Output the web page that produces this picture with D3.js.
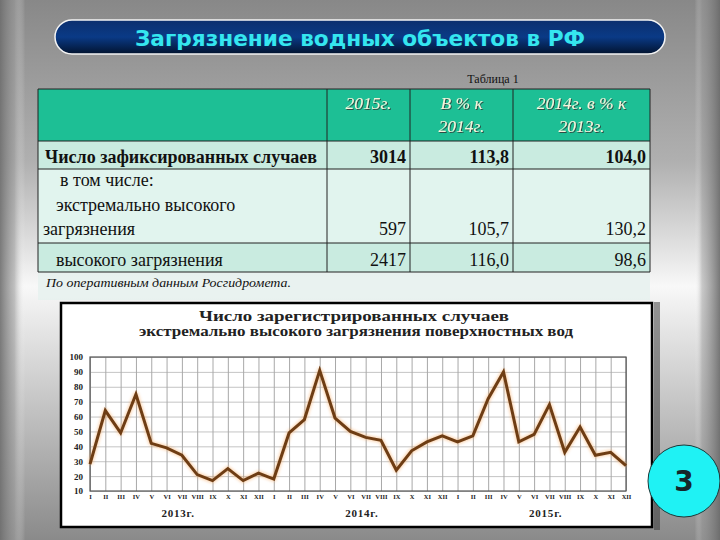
<!DOCTYPE html>
<html>
<head>
<meta charset="utf-8">
<script src="https://cdn.jsdelivr.net/npm/d3@7"></script>
<style>
  body { margin: 0; padding: 0; overflow: hidden; }
  svg { display: block; }
</style>
</head>
<body>
<div id="place"></div>
<script>
(function() {

	// data
	const months = ["I","II","III","IV","V","VI","VII","VIII","IX","X","XI","XII"];
	const years = ["2013г.", "2014г.", "2015г."];
	const cases2013 = [28, 64, 49, 75, 42, 39, 34, 21, 17, 25, 17, 22];
	const cases2014 = [18, 49, 58, 91, 59, 50, 46, 44, 24, 37, 43, 47];
	const cases2015 = [43, 47, 72, 90, 43, 48, 68, 36, 53, 34, 36, 27];
	const yTicks = [10, 20, 30, 40, 50, 60, 70, 80, 90, 100];

	const tableHead = ["", "2015г.", "В % к|2014г.", "2014г. в % к|2013г."];
	const rowLabels = [["Число зафиксированных случаев"], ["в том числе:", "экстремально высокого", "загрязнения"], ["высокого загрязнения"]];
	const rowValues = [["3014", "113,8", "104,0"], ["597", "105,7", "130,2"], ["2417", "116,0", "98,6"]];

	const width = 720, height = 540;

	let svg = d3.select("#place").append("svg")
		.attr('width', width)
		.attr('height', height)

	const defs = svg.append("defs");

	// slide background
	const bg = defs.append("linearGradient").attr("id", "bg")
		.attr("x1", "0%").attr("x2", "0%").attr("y1", "0%").attr("y2", "100%");
	[[0, "#888888"], [0.3, "#b0b0b0"], [0.48, "#e8e8e8"], [0.53, "#f8f8f8"], [0.7, "#d0d0d0"], [1, "#8a8a8a"]]
		.forEach(s => bg.append("stop").attr("offset", s[0]).attr("stop-color", s[1]));

	const edge = defs.append("linearGradient").attr("id", "edge")
		.attr("x1", "0%").attr("x2", "100%").attr("y1", "0%").attr("y2", "0%");
	[[0, "#6e6e6e", 0.9], [0.02, "#9a9a9a", 0.6], [0.035, "#ffffff", 0.0], [0.965, "#ffffff", 0.0], [0.975, "#9a9a9a", 0.5], [1, "#6a6a6a", 0.9]]
		.forEach(s => edge.append("stop").attr("offset", s[0]).attr("stop-color", s[1]).attr("stop-opacity", s[2]));

	const banner = defs.append("linearGradient").attr("id", "banner")
		.attr("x1", "0%").attr("x2", "0%").attr("y1", "0%").attr("y2", "100%");
	[[0, "#0c2f6e"], [0.5, "#0a3a86"], [1, "#02132f"]]
		.forEach(s => banner.append("stop").attr("offset", s[0]).attr("stop-color", s[1]));

	const glow = defs.append("filter").attr("id", "glow").attr("x", "-5%").attr("y", "-10%").attr("width", "110%").attr("height", "120%");
	glow.append("feGaussianBlur").attr("stdDeviation", 1.4);

	const shadow = defs.append("filter").attr("id", "tshadow");
	shadow.append("feDropShadow").attr("dx", 1).attr("dy", 1).attr("stdDeviation", 0.6).attr("flood-color", "#333").attr("flood-opacity", 0.8);

	svg.append("rect").attr("width", width).attr("height", height).attr("fill", "url(#bg)");
	svg.append("rect").attr("width", width).attr("height", height).attr("fill", "url(#edge)");

	// title banner
	svg.append("rect")
		.attr("x", 55).attr("y", 20).attr("width", 610).attr("height", 34).attr("rx", 17)
		.attr("fill", "url(#banner)").attr("stroke", "#f4f4f4").attr("stroke-width", 1.5);
	svg.append("text")
		.attr("x", 360).attr("y", 46).attr("text-anchor", "middle")
		.attr("font-family", "'DejaVu Sans', sans-serif").attr("font-weight", "bold").attr("font-size", 22)
		.attr("textLength", 450).attr("lengthAdjust", "spacingAndGlyphs")
		.attr("fill", "#35e6ef")
		.text("Загрязнение водных объектов в РФ");

	svg.append("text")
		.attr("x", 493).attr("y", 83).attr("text-anchor", "middle")
		.attr("font-family", "'Liberation Serif', serif").attr("font-size", 12).attr("fill", "#111")
		.text("Таблица 1");

	// table
	const colX = [38, 327, 410, 513, 650];
	const rowY = [89, 141, 169, 243, 272];
	const rowFill = ["#1dbf95", "#c9ebe0", "#e1f4ee", "#c9ebe0"];
	const serif = "'Liberation Serif', 'Times New Roman', serif";

	const tbl = svg.append("g").attr("class", "table");

	tbl.append("rect")
		.attr("x", colX[0]).attr("y", rowY[4]).attr("width", colX[4] - colX[0]).attr("height", 28)
		.attr("fill", "#e6f1ee").attr("opacity", 0.85);

	tbl.selectAll("rect.row")
		.data(rowFill)
	  .enter().append("rect")
		.attr("class", "row")
		.attr("x", colX[0]).attr("y", (d, i) => rowY[i])
		.attr("width", colX[4] - colX[0]).attr("height", (d, i) => rowY[i + 1] - rowY[i])
		.attr("fill", d => d);

	tbl.selectAll("line.h")
		.data(rowY)
	  .enter().append("line")
		.attr("x1", colX[0]).attr("x2", colX[4])
		.attr("y1", d => d).attr("y2", d => d)
		.attr("stroke", "#222").attr("stroke-width", 1);

	tbl.selectAll("line.v")
		.data(colX)
	  .enter().append("line")
		.attr("x1", d => d).attr("x2", d => d)
		.attr("y1", rowY[0]).attr("y2", rowY[4])
		.attr("stroke", "#222").attr("stroke-width", 1);

	// header
	tableHead.forEach((h, c) => {
		if (!h) return;
		const cx = (colX[c] + colX[c + 1]) / 2;
		h.split("|").forEach((line, k) => {
			tbl.append("text")
				.attr("x", cx).attr("y", 109 + k * 23).attr("text-anchor", "middle")
				.attr("font-family", serif).attr("font-style", "italic").attr("font-size", 17.5)
				.attr("fill", "#f6f4dc").attr("filter", "url(#tshadow)")
				.text(line);
		});
	});

	// body rows
	const labelX = [[45], [60, 56, 43], [56]];
	const labelY = [[163], [186, 211, 235], [266]];
	rowLabels.forEach((lines, r) => {
		lines.forEach((t, k) => {
			tbl.append("text")
				.attr("x", labelX[r][k]).attr("y", labelY[r][k])
				.attr("font-family", serif).attr("font-size", 18)
				.attr("font-weight", r === 0 ? "bold" : "normal")
				.attr("fill", "#111")
				.text(t);
		});
		rowValues[r].forEach((v, c) => {
			tbl.append("text")
				.attr("x", colX[c + 2] - 4).attr("y", labelY[r][lines.length - 1])
				.attr("text-anchor", "end")
				.attr("font-family", serif).attr("font-size", 18)
				.attr("font-weight", r === 0 ? "bold" : "normal")
				.attr("fill", "#111")
				.text(v);
		});
	});

	tbl.append("text")
		.attr("x", 46).attr("y", 287)
		.attr("font-family", serif).attr("font-style", "italic").attr("font-size", 13)
		.attr("textLength", 245).attr("lengthAdjust", "spacingAndGlyphs")
		.attr("fill", "#111")
		.text("По оперативным данным Росгидромета.");

	// chart panel
	svg.append("rect")
		.attr("x", 654).attr("y", 302).attr("width", 6).attr("height", 228)
		.attr("fill", "#333").attr("opacity", 0.5);
	svg.append("rect")
		.attr("x", 61).attr("y", 303).attr("width", 591).attr("height", 224)
		.attr("fill", "#fff").attr("stroke", "#000").attr("stroke-width", 2.5);

	svg.append("text")
		.attr("x", 354).attr("y", 321).attr("text-anchor", "middle")
		.attr("font-family", serif).attr("font-weight", "bold").attr("font-size", 14)
		.attr("textLength", 310).attr("lengthAdjust", "spacingAndGlyphs")
		.attr("fill", "#222")
		.text("Число зарегистрированных случаев");
	svg.append("text")
		.attr("x", 356).attr("y", 336).attr("text-anchor", "middle")
		.attr("font-family", serif).attr("font-weight", "bold").attr("font-size", 14)
		.attr("textLength", 434).attr("lengthAdjust", "spacingAndGlyphs")
		.attr("fill", "#222")
		.text("экстремально высокого загрязнения  поверхностных вод");

	const series = [].concat(cases2013, cases2014, cases2015);
	const labels = [].concat(months, months, months);

	const x = d3.scaleLinear().domain([0, series.length - 1]).range([90, 626]);
	const y = d3.scaleLinear().domain([10, 100]).range([491, 357]);

	const plot = svg.append("g").attr("class", "plot");

	plot.append("g")
		.attr("transform", "translate(" + x.range()[0] + ",0)")
		.call(d3.axisLeft(y).tickValues(yTicks).tickSize(-(x.range()[1] - x.range()[0])).tickFormat(""))
		.call(g => g.select(".domain").remove())
		.call(g => g.selectAll("line").attr("stroke", "#c4c4c4").attr("stroke-width", 1));

	plot.append("g")
		.attr("transform", "translate(0," + y.range()[0] + ")")
		.call(d3.axisBottom(x).tickValues(d3.range(series.length)).tickSize(-(y.range()[0] - y.range()[1])).tickFormat(""))
		.call(g => g.select(".domain").remove())
		.call(g => g.selectAll("line").attr("stroke", "#a8a8a8").attr("stroke-width", 1));

	plot.append("rect")
		.attr("x", x.range()[0]).attr("y", y.range()[1])
		.attr("width", x.range()[1] - x.range()[0]).attr("height", y.range()[0] - y.range()[1])
		.attr("fill", "none").attr("stroke", "#555").attr("stroke-width", 1.2);

	// y labels
	plot.append("g")
		.attr("transform", "translate(" + (x.range()[0] - 7) + ",0)")
		.call(d3.axisLeft(y).tickValues(yTicks).tickSize(0).tickPadding(0))
		.call(g => g.select(".domain").remove())
		.call(g => g.selectAll("text")
			.attr("font-family", serif).attr("font-weight", "bold").attr("font-size", 9).attr("fill", "#222"));

	// month labels
	plot.append("g")
		.attr("transform", "translate(0," + (y.range()[0] + 3) + ")")
		.call(d3.axisBottom(x).tickValues(d3.range(series.length)).tickSize(0).tickPadding(0).tickFormat(i => labels[i]))
		.call(g => g.select(".domain").remove())
		.call(g => g.selectAll("text")
			.attr("font-family", serif).attr("font-weight", "bold").attr("font-size", 6.5).attr("fill", "#222"));

	plot.selectAll("text.year")
		.data(years)
	  .enter().append("text")
		.attr("class", "year")
		.attr("x", (d, i) => x(5.75 + i * 12)).attr("y", 517)
		.attr("text-anchor", "middle")
		.attr("font-family", serif).attr("font-weight", "bold").attr("font-size", 11)
		.attr("letter-spacing", 0.8).attr("fill", "#222")
		.text(d => d);

	const line = d3.line().x((d, i) => x(i)).y(d => y(d));

	plot.append("path")
		.datum(series)
		.attr("d", line)
		.attr("fill", "none").attr("stroke", "#f6a050").attr("stroke-width", 5)
		.attr("stroke-linejoin", "round").attr("opacity", 0.45).attr("filter", "url(#glow)");

	plot.append("path")
		.datum(series)
		.attr("d", line)
		.attr("fill", "none").attr("stroke", "#6e3d14").attr("stroke-width", 3)
		.attr("stroke-linejoin", "miter");

	// page number badge
	svg.append("circle")
		.attr("cx", 684).attr("cy", 481).attr("r", 36)
		.attr("fill", "#1ff2f4").attr("stroke", "#1a3a3a").attr("stroke-width", 1);
	svg.append("text")
		.attr("x", 684).attr("y", 491).attr("text-anchor", "middle")
		.attr("font-family", "'DejaVu Sans', sans-serif").attr("font-weight", "bold").attr("font-size", 28)
		.attr("fill", "#15262a")
		.text("3");

})()
</script>
</body>
</html>
